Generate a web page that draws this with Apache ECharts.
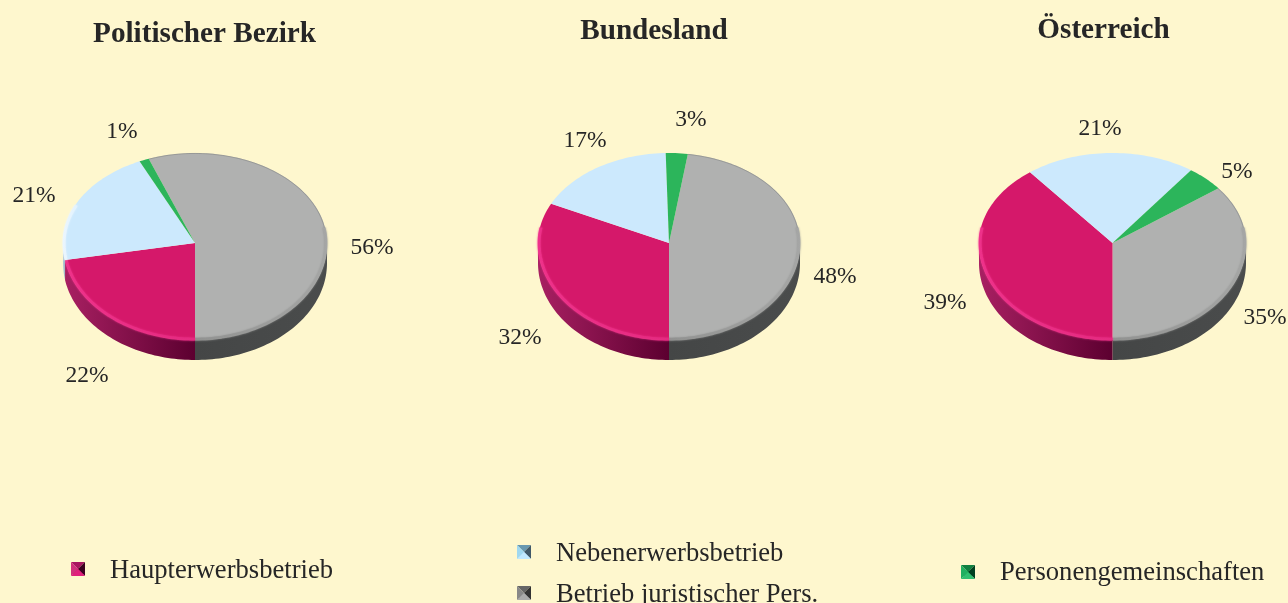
<!DOCTYPE html>
<html><head><meta charset="utf-8">
<style>html,body{margin:0;padding:0;background:#FEF7CE;overflow:hidden}#c{width:1288px;height:603px}</style>
<script src="https://cdn.jsdelivr.net/npm/echarts@6/dist/echarts.min.js"></script>
</head><body><div id="c"></div>
<script>
// Data
const regions = ['Politischer Bezirk', 'Bundesland', 'Österreich'];
const juristisch = [55.7, 47.7, 35.4];
const haupt = [22.2, 32.2, 39.4];
const neben = [20.9, 17.4, 20.6];
const gemein = [1.2, 2.7, 4.6];
const names = ['Betrieb juristischer Pers.', 'Haupterwerbsbetrieb', 'Nebenerwerbsbetrieb', 'Personengemeinschaften'];
const values = [juristisch, haupt, neben, gemein];

// Layout & style (not data)
const serif = '"Liberation Serif","Times New Roman",serif';
const ink = '#262626';
const pies = [
  {cx: 195, rx: 132, titleX: 204.5, titleY: 20},
  {cx: 669, rx: 131, titleX: 654, titleY: 17},
  {cx: 1112.5, rx: 133.5, titleX: 1103.5, titleY: 16}
];
const cy = 243, ryUp = 90, ryDown = 97, depth = 20;
const labelAt = [
  [[372, 248], [87, 376], [34, 196], [122, 132]],
  [[835, 277], [520, 338], [585, 141], [691, 120]],
  [[1265, 318], [945, 303], [1100, 129], [1237, 172]]
];
const faces = ['#B0B1B0', '#D5186A', '#CCE9FD', '#2CB55B'];
const sideStops = [
  ['#444646', '#4A4C4C'],
  ['#A82062', '#5C0030'],
  ['#B9CDD9', '#9DB4C2'],
  ['#1A7A3C', '#146030']
];
const rimStops = [
  ['#8E8F8E', '#A8A9A8'],
  ['#F0338C', '#E42A80'],
  ['#EEF7FE', '#E0F2FE'],
  ['#2CB55B', '#2CB55B']
];

function pt(p, deg, k) {
  const a = deg * Math.PI / 180, c = Math.cos(a);
  const ry = c >= 0 ? ryUp : ryDown;
  return [p.cx + p.rx * k * Math.sin(a), cy - ry * k * c];
}
function arc(p, from, to, k, dy) {
  const out = [], n = Math.max(2, Math.ceil(Math.abs(to - from) / 1.5));
  for (let i = 0; i <= n; i++) {
    const q = pt(p, from + (to - from) * i / n, k);
    out.push([q[0], q[1] + (dy || 0)]);
  }
  return out;
}
function hGrad(stops) {
  return new echarts.graphic.LinearGradient(0, 0, 1, 0, [
    {offset: 0, color: stops[0]}, {offset: 1, color: stops[1]}]);
}
function renderSlice(s) {
  return function (params, api) {
    const r = api.value(0), v = api.value(1), p = pies[r];
    // Grey slice ends at six o'clock; the rest follow clockwise.
    let start = 180 - values[0][r] * 3.6;
    for (let i = 0; i < s; i++) start += values[i][r] * 3.6;
    const end = start + v * 3.6;
    const kids = [];
    const a0 = Math.max(start, 90), a1 = Math.min(end, 270);
    if (a1 > a0) {
      const topEdge = arc(p, a0, a1, 1, 0);
      const botEdge = arc(p, a1, a0, 1, depth);
      kids.push({type: 'polygon', shape: {points: topEdge.concat(botEdge)},
        style: {fill: hGrad(sideStops[s])}});
    }
    kids.push({type: 'polygon', shape: {points: [[p.cx, cy]].concat(arc(p, start, end, 1, 0))},
      style: {fill: faces[s]}});
    // Soft bevel along the front rim
    const rimTo = Math.min(end, s === 2 ? 295 : s === 1 ? 280 : 270);
    const rimFrom = Math.max(start, s === 0 ? 80 : 90);
    if (rimTo > rimFrom && s !== 3) {
      kids.push({type: 'polyline', shape: {points: arc(p, rimFrom, rimTo, 0.992, 0)},
        style: {fill: 'none', stroke: hGrad(rimStops[s]), lineWidth: 3, opacity: 0.8,
          shadowBlur: 2, shadowColor: rimStops[s][0]}});
    }
    if (s === 0) {
      kids.push({type: 'polyline', shape: {points: arc(p, start, Math.min(end, 80), 0.995, 0)},
        style: {fill: 'none', stroke: '#7E7F7E', lineWidth: 1, opacity: 0.5}});
    }
    const at = labelAt[r][s];
    kids.push({type: 'text', style: {x: at[0], y: at[1], text: Math.round(v) + '%', fill: ink,
      font: '23.5px ' + serif, textAlign: 'center', textVerticalAlign: 'middle'}});
    return {type: 'group', children: kids};
  };
}

const series = names.map((name, s) => ({
  type: 'custom', name, coordinateSystem: 'none', silent: true,
  itemStyle: {color: faces[s]},
  data: values[s].map((v, r) => [r, v]),
  renderItem: renderSlice(s),
  animation: false
}));

const legendText = {color: ink, fontFamily: serif, fontSize: 26.6, padding: [0, 0, 0, 20]};
function legend(left, top, name) {
  return {left, top, itemWidth: 14, itemHeight: 6,
    data: [{name, icon: 'rect'}], selectedMode: false, textStyle: legendText, padding: 0};
}

function bevel(x, y, cols) {
  const w = 14, m = [x + w / 2, y + w / 2];
  const A = [x, y], B = [x + w, y], C = [x + w, y + w], D = [x, y + w];
  return [[A, B], [B, C], [C, D], [D, A]].map((e, i) => ({
    type: 'polygon', silent: true, z: 100,
    shape: {points: [e[0], e[1], m]}, style: {fill: cols[i]}
  }));
}

const chart = echarts.init(document.getElementById('c'), null, {renderer: 'canvas'});
chart.setOption({
  backgroundColor: '#FEF7CE',
  animation: false,
  title: regions.map((text, i) => ({
    text, left: pies[i].titleX, top: pies[i].titleY, textAlign: 'center', padding: 0,
    textStyle: {color: ink, fontFamily: serif, fontWeight: 'bold', fontSize: 29.2}
  })),
  legend: [
    legend(71, 558, names[1]),
    legend(517, 541, names[2]),
    legend(517, 582, names[0]),
    legend(961, 560, names[3])
  ],
  series,
  graphic: [].concat(
    bevel(71, 562, ['#A81560', '#3A0020', '#E0207C', '#D0307C']),
    bevel(517, 545, ['#6898B0', '#405868', '#C0E8FF', '#A0D8F0']),
    bevel(517, 586, ['#666666', '#333333', '#AAAAAA', '#888888']),
    bevel(961, 565, ['#108040', '#004020', '#30C070', '#20B060'])
  )
});
</script></body></html>
